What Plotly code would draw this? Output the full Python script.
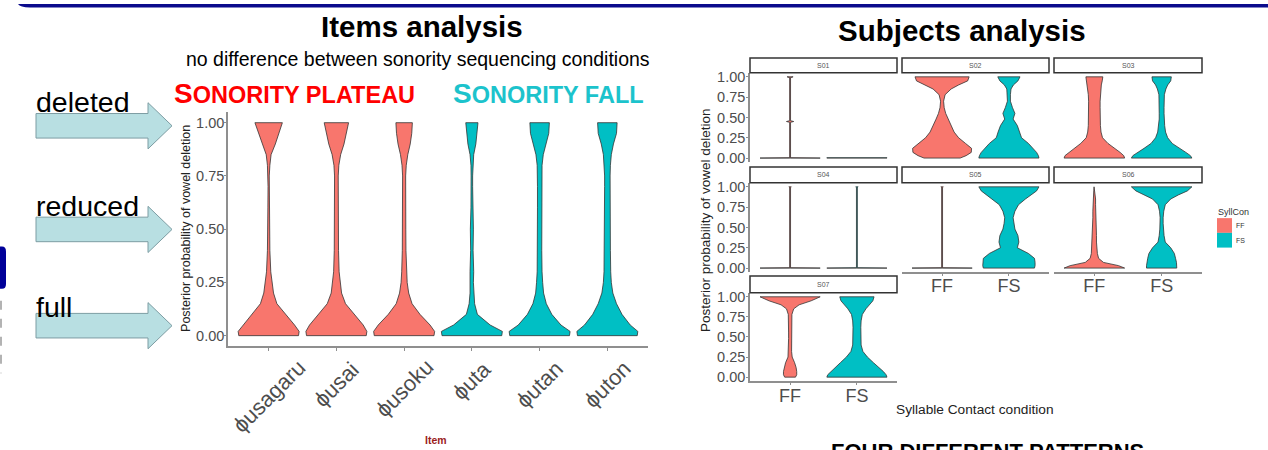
import plotly.graph_objects as go

W, H = 1268, 450
RED = "#F8766D"
CYAN = "#00BFC4"
OUTLINE = "#333333"
AXIS = "#8f8f8f"
TICKTXT = "#4d4d4d"
FONT = "Liberation Sans, Arial, sans-serif"

# ---------------- Items analysis (left) ----------------
ITEMS = ["ϕusagaru", "ϕusai", "ϕusoku", "ϕuta", "ϕutan", "ϕuton"]
ITEM_CONDITION = ["plateau", "plateau", "plateau", "fall", "fall", "fall"]
ITEM_Y = [0.00, 0.02, 0.05, 0.10, 0.15, 0.20, 0.25, 0.30, 0.40, 0.50,
          0.60, 0.70, 0.75, 0.80, 0.85, 0.90, 0.95, 1.00]
W_USAGARU = [0.98, 1.00, 0.85, 0.55, 0.27, 0.16, 0.11, 0.07, 0.04, 0.03,
             0.025, 0.02, 0.02, 0.04, 0.08, 0.22, 0.33, 0.45]
W_USAI = [0.98, 1.00, 0.88, 0.58, 0.30, 0.17, 0.12, 0.09, 0.07, 0.065,
          0.06, 0.06, 0.06, 0.08, 0.14, 0.25, 0.33, 0.40]
W_USOKU = [0.98, 1.00, 0.85, 0.52, 0.26, 0.15, 0.10, 0.08, 0.06, 0.055,
           0.05, 0.05, 0.05, 0.07, 0.12, 0.20, 0.25, 0.27]
W_UTA = [0.98, 1.00, 0.60, 0.18, 0.09, 0.06, 0.05, 0.06, 0.04, 0.05,
         0.03, 0.025, 0.025, 0.03, 0.06, 0.13, 0.17, 0.20]
W_UTAN = [0.98, 1.00, 0.70, 0.40, 0.22, 0.13, 0.10, 0.08, 0.07, 0.07,
          0.07, 0.07, 0.07, 0.08, 0.12, 0.20, 0.30, 0.32]
W_UTON = [0.98, 1.00, 0.75, 0.48, 0.30, 0.18, 0.13, 0.11, 0.10, 0.09,
          0.09, 0.09, 0.09, 0.10, 0.13, 0.20, 0.30, 0.32]
ITEM_WIDTHS = [W_USAGARU, W_USAI, W_USOKU, W_UTA, W_UTAN, W_UTON]

Y_TICKS = [0, 0.25, 0.5, 0.75, 1.0]
Y_TICK_LABELS = ["0.00", "0.25", "0.50", "0.75", "1.00"]

# ---------------- Subjects analysis (right) ----------------
SUBJECTS = ["S01", "S02", "S03", "S04", "S05", "S06", "S07"]
CONDS = ["FF", "FS"]
SUBJ_Y = [0.00, 0.03, 0.07, 0.12, 0.18, 0.25, 0.32, 0.40, 0.48, 0.55,
          0.62, 0.70, 0.78, 0.85, 0.90, 0.95, 1.00]
S02_FF = [0.60, 0.80, 0.97, 0.98, 0.78, 0.55, 0.40, 0.30, 0.20, 0.12,
          0.07, 0.05, 0.10, 0.30, 0.55, 0.85, 0.90]
S02_FS = [1.00, 0.98, 0.92, 0.80, 0.65, 0.42, 0.36, 0.28, 0.14, 0.20,
          0.12, 0.05, 0.05, 0.07, 0.15, 0.30, 0.37]
S03_FF = [1.00, 0.97, 0.85, 0.65, 0.45, 0.27, 0.22, 0.20, 0.19, 0.19,
          0.19, 0.19, 0.20, 0.21, 0.23, 0.26, 0.28]
S03_FS = [1.00, 0.95, 0.80, 0.58, 0.35, 0.20, 0.13, 0.10, 0.08, 0.08,
          0.08, 0.08, 0.09, 0.14, 0.20, 0.30, 0.32]
S05_FS = [0.85, 0.87, 0.87, 0.85, 0.65, 0.28, 0.33, 0.30, 0.20, 0.16,
          0.14, 0.20, 0.32, 0.55, 0.75, 0.92, 1.00]
S06_FF = [1.00, 0.80, 0.30, 0.14, 0.10, 0.08, 0.07, 0.07, 0.06, 0.06,
          0.05, 0.05, 0.04, 0.04, 0.03, 0.02, 0.01]
S06_FS = [0.50, 0.50, 0.49, 0.46, 0.42, 0.30, 0.12, 0.08, 0.06, 0.05,
          0.05, 0.07, 0.12, 0.30, 0.55, 0.85, 1.00]
S07_FF = [0.18, 0.22, 0.22, 0.20, 0.15, 0.07, 0.05, 0.05, 0.05, 0.05,
          0.05, 0.05, 0.06, 0.12, 0.30, 0.70, 1.00]
S07_FS = [1.00, 0.97, 0.88, 0.72, 0.55, 0.35, 0.20, 0.14, 0.13, 0.13,
          0.13, 0.14, 0.18, 0.30, 0.42, 0.53, 0.57]
# near-degenerate violins (almost all mass at 0)
S01_FF_Y = [0.00, 0.004, 0.44, 0.45, 0.46, 0.99, 1.00]
S01_FF_W = [1.00, 0.015, 0.015, 0.12, 0.015, 0.015, 0.10]
S01_FS_Y = [0.00, 0.004]
S01_FS_W = [1.00, 1.00]
FLAT_Y = [0.00, 0.004, 0.99, 1.00]
FLAT_W = [1.00, 0.015, 0.015, 0.04]

SUBJ_PROFILES = {
    ("S01", "FF"): (S01_FF_Y, S01_FF_W), ("S01", "FS"): (S01_FS_Y, S01_FS_W),
    ("S02", "FF"): (SUBJ_Y, S02_FF), ("S02", "FS"): (SUBJ_Y, S02_FS),
    ("S03", "FF"): (SUBJ_Y, S03_FF), ("S03", "FS"): (SUBJ_Y, S03_FS),
    ("S04", "FF"): (FLAT_Y, FLAT_W), ("S04", "FS"): (FLAT_Y, FLAT_W),
    ("S05", "FF"): (FLAT_Y, FLAT_W), ("S05", "FS"): (SUBJ_Y, S05_FS),
    ("S06", "FF"): (SUBJ_Y, S06_FF), ("S06", "FS"): (SUBJ_Y, S06_FS),
    ("S07", "FF"): (SUBJ_Y, S07_FF), ("S07", "FS"): (SUBJ_Y, S07_FS),
}


def fx(x):
    return x / W


def fy(y):
    return 1 - y / H


def violin_xy(center, ys, ws, hw=0.45):
    xr = [center + w * hw for w in ws]
    xl = [center - w * hw for w in ws]
    return xr + xl[::-1] + [xr[0]], list(ys) + list(ys)[::-1] + [ys[0]]


fig = go.Figure()
layout = dict(width=W, height=H, margin=dict(l=0, r=0, t=0, b=0),
              paper_bgcolor="white", plot_bgcolor="rgba(0,0,0,0)",
              showlegend=False, font=dict(family=FONT))

# ---- left chart traces ----
for i, (name, ws) in enumerate(zip(ITEMS, ITEM_WIDTHS)):
    col = RED if ITEM_CONDITION[i] == "plateau" else CYAN
    xs, ys = violin_xy(i + 1, ITEM_Y, ws)
    fig.add_trace(go.Scatter(x=xs, y=ys, mode="lines", fill="toself",
                             fillcolor=col, line=dict(color=OUTLINE, width=0.8),
                             xaxis="x", yaxis="y", hoverinfo="skip"))

layout["xaxis"] = dict(domain=[fx(228), fx(648)], range=[0.4, 6.6],
                       tickvals=list(range(1, len(ITEMS) + 1)), showticklabels=False,
                       ticks="outside", ticklen=3, tickcolor=AXIS, showline=True,
                       linecolor=AXIS, linewidth=1.5, showgrid=False, zeroline=False,
                       anchor="y", fixedrange=True)
layout["yaxis"] = dict(domain=[fy(348.5), fy(110)], range=[-0.05, 1.05],
                       tickvals=Y_TICKS, ticktext=Y_TICK_LABELS,
                       tickfont=dict(size=14.5, color=TICKTXT, family=FONT),
                       ticks="outside", ticklen=2, tickcolor=AXIS, showline=True,
                       ticklabelstandoff=-3,
                       linecolor=AXIS, linewidth=1.5, showgrid=False, zeroline=False,
                       anchor="x", fixedrange=True)

# ---- right facets ----
COL_PX = [(750, 897), (902, 1049), (1054, 1202)]
ROW_PX = [(70, 161, 55), (182, 273, 166), (294, 384, 277)]
shapes = []
annotations = []
BOTTOM_PANELS = {"S05", "S06", "S07"}
for k, subj in enumerate(SUBJECTS):
    r, c = divmod(k, 3)
    ax = k + 2
    x0, x1 = COL_PX[c]
    y0, y1, st = ROW_PX[r]
    for j, cond in enumerate(CONDS):
        ys_, ws_ = SUBJ_PROFILES[(subj, cond)]
        xs, ys = violin_xy(j + 1, ys_, ws_)
        fig.add_trace(go.Scatter(x=xs, y=ys, mode="lines", fill="toself",
                                 fillcolor=RED if cond == "FF" else CYAN,
                                 line=dict(color=OUTLINE, width=0.8),
                                 xaxis=f"x{ax}", yaxis=f"y{ax}", hoverinfo="skip"))
    bottom = subj in BOTTOM_PANELS
    layout[f"xaxis{ax}"] = dict(domain=[fx(x0), fx(x1)], range=[0.4, 2.6],
                                tickvals=[1, 2], ticktext=CONDS,
                                showticklabels=bottom,
                                tickfont=dict(size=18, color=TICKTXT, family=FONT),
                                ticks="outside" if bottom else "", ticklen=2,
                                ticklabelstandoff=-5,
                                tickcolor=AXIS, showline=bottom, linecolor=AXIS,
                                linewidth=1.5, showgrid=False, zeroline=False,
                                anchor=f"y{ax}", fixedrange=True)
    layout[f"yaxis{ax}"] = dict(domain=[fy(y1), fy(y0)], range=[-0.05, 1.05],
                                tickvals=Y_TICKS, ticktext=Y_TICK_LABELS,
                                showticklabels=(c == 0),
                                tickfont=dict(size=14.5, color=TICKTXT, family=FONT),
                                ticks="outside" if c == 0 else "", ticklen=2,
                                ticklabelstandoff=-2,
                                tickcolor=AXIS, showline=(c == 0), linecolor=AXIS,
                                linewidth=1.5, showgrid=False, zeroline=False,
                                anchor=f"x{ax}", fixedrange=True)
    shapes.append(dict(type="rect", xref="paper", yref="paper",
                       x0=fx(x0), x1=fx(x1), y0=fy(y0), y1=fy(st),
                       fillcolor="white", line=dict(color="#333", width=1.5)))
    annotations.append(dict(text=subj, xref="paper", yref="paper",
                            x=fx((x0 + x1) / 2), y=fy((st + y0) / 2),
                            showarrow=False, xanchor="center", yanchor="middle",
                            font=dict(size=7, color="#555", family=FONT)))

# ---- rotated item labels (centred under ticks) ----
for i, name in enumerate(ITEMS):
    cy = 368 + len(name) * 11 * 0.707 / 2
    annotations.append(dict(text=name, xref="x", yref="paper", x=i + 1, y=fy(cy),
                            textangle=-45, showarrow=False, xanchor="center",
                            yanchor="middle",
                            font=dict(size=22, color=TICKTXT, family=FONT)))

# ---- decorative slide elements ----
shapes.append(dict(type="path", xref="paper", yref="paper",
                   path=f"M {fx(18)},{fy(0)} Q {fx(20)},{fy(3.5)} {fx(30)},{fy(3.5)} "
                        f"L {fx(1268)},{fy(3.5)} L {fx(1268)},{fy(0)} Z",
                   fillcolor="#0b0b8c", line=dict(width=0)))
shapes.append(dict(type="path", xref="paper", yref="paper",
                   path=f"M {fx(0)},{fy(247)} L {fx(2)},{fy(247)} Q {fx(6)},{fy(247)} {fx(6)},{fy(252)} "
                        f"L {fx(6)},{fy(285)} Q {fx(6)},{fy(290)} {fx(2)},{fy(290)} L {fx(0)},{fy(290)} Z",
                   fillcolor="#000099", line=dict(width=0)))
shapes.append(dict(type="line", xref="paper", yref="paper",
                   x0=fx(1), x1=fx(1), y0=fy(302), y1=fy(376),
                   line=dict(color="#9a9a9a", width=1.5, dash="dash")))
for cy in (124, 229.5, 327.5):
    path = (f"M {fx(36)},{fy(cy - 12.5)} L {fx(148)},{fy(cy - 12.5)} "
            f"L {fx(148)},{fy(cy - 23.5)} L {fx(172)},{fy(cy)} "
            f"L {fx(148)},{fy(cy + 23.5)} L {fx(148)},{fy(cy + 12.5)} "
            f"L {fx(36)},{fy(cy + 12.5)} Z")
    shapes.append(dict(type="path", xref="paper", yref="paper", path=path,
                       fillcolor="#b8dfe2", line=dict(color="#7d9da3", width=1)))

shapes.append(dict(type="rect", xref="paper", yref="paper", x0=fx(1217), x1=fx(1232),
                   y0=fy(233), y1=fy(218), fillcolor=RED, line=dict(width=0)))
shapes.append(dict(type="rect", xref="paper", yref="paper", x0=fx(1217), x1=fx(1232),
                   y0=fy(248), y1=fy(233), fillcolor=CYAN, line=dict(width=0)))


def txt(text, x, y, size, color="black", xanchor="center", yanchor="middle", angle=0):
    annotations.append(dict(text=text, xref="paper", yref="paper", x=fx(x), y=fy(y),
                            showarrow=False, xanchor=xanchor, yanchor=yanchor,
                            textangle=angle,
                            font=dict(size=size, color=color, family=FONT)))


txt("SyllCon", 1216, 212, 9, "#333", xanchor="left")
txt(CONDS[0], 1234, 226, 7, "#333", xanchor="left")
txt(CONDS[1], 1234, 241, 7, "#333", xanchor="left")

txt("<b>Items analysis</b>", 422, 23, 29.5)
txt("no difference between sonority sequencing conditions", 418, 56, 19.5)
txt("<b><span style='font-size:28px'>S</span>ONORITY PLATEAU</b>", 294, 91, 23.5, "#ff0000")
txt("<b><span style='font-size:28px'>S</span>ONORITY FALL</b>", 548, 91, 23.5, "#1cc3cc")
txt("<b>Subjects analysis</b>", 962, 27, 29.5)
txt("deleted", 34, 100, 28.5, xanchor="left")
txt("reduced", 34, 206, 28.5, xanchor="left")
txt("full", 34, 308, 28.5, xanchor="left")
txt("Posterior probability of vowel deletion", 186, 229, 12.5, "#222", angle=-90)
txt("<b>Item</b>", 436, 444, 10.5, "#9b1c1c")
txt("Posterior probability of vowel deletion", 705, 220, 13.5, "#222", angle=-90)
txt("Syllable Contact condition", 975, 413, 13.7, "#222")
txt("<b>FOUR DIFFERENT PATTERNS</b>", 987, 441, 22, yanchor="top")

layout["shapes"] = shapes
layout["annotations"] = annotations
fig.update_layout(**layout)
fig.write_html("out.html", config={"displayModeBar": False},
               post_script="document.body.style.margin='0';")
